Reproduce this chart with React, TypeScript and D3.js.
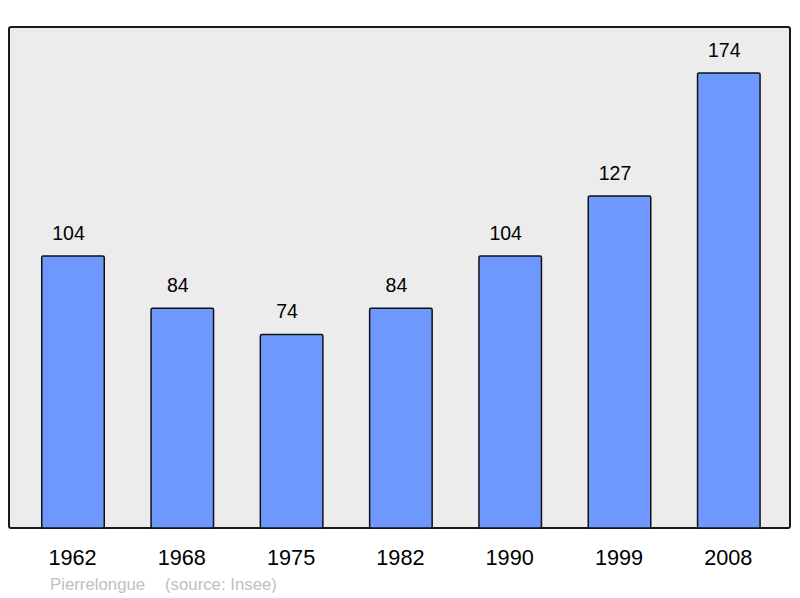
import * as d3 from "d3";

const years = ["1962", "1968", "1975", "1982", "1990", "1999", "2008"];
const population = [104, 84, 74, 84, 104, 127, 174];
const townName = "Pierrelongue";
const sourceLabel = "(source: Insee)";

function App() {
  const width = 800;
  const height = 598;
  const panel = { x: 9, y: 27, w: 781, h: 501 };
  const baseline = panel.y + panel.h;

  const x = d3
    .scaleBand<string>()
    .domain(years)
    .range([18.35, 783.45])
    .paddingInner(0.428)
    .paddingOuter(0.214);

  // 174 reaches y=73
  const y = d3.scaleLinear().domain([0, 174]).range([baseline, 73]);

  const font = "'Liberation Sans', Arial, sans-serif";

  return (
    <svg
      width={width}
      height={height}
      style={{ position: "absolute", left: 0, top: 0, fontFamily: font }}
    >
      <rect
        x={panel.x}
        y={panel.y}
        width={panel.w}
        height={panel.h}
        rx={2}
        fill="#ececec"
        stroke="#1a1a1a"
        strokeWidth={2}
      />
      {years.map((yr, i) => {
        const v = population[i];
        const bx = x(yr)!;
        const bw = x.bandwidth();
        return (
          <g key={yr}>
            <rect
              x={bx}
              y={y(v)}
              width={bw}
              height={baseline - y(v)}
              rx={1.5}
              fill="#6f98ff"
              stroke="#111"
              strokeWidth={1.5}
            />
            {/* value labels sit a little left of the bar centre */}
            <text
              x={bx + bw / 2 - 4.5}
              y={y(v) - 16}
              textAnchor="middle"
              fontSize={19.5}
              fill="#000"
            >
              {v}
            </text>
            <text
              x={bx + bw / 2 - 0.5}
              y={565}
              textAnchor="middle"
              fontSize={21.7}
              fill="#000"
            >
              {yr}
            </text>
          </g>
        );
      })}
      <text x={50} y={590} fontSize={16.8} fill="#c0c0c0">
        {townName}
      </text>
      <text x={165} y={590} fontSize={16.8} fill="#c0c0c0">
        {sourceLabel}
      </text>
    </svg>
  );
}

export default App;
